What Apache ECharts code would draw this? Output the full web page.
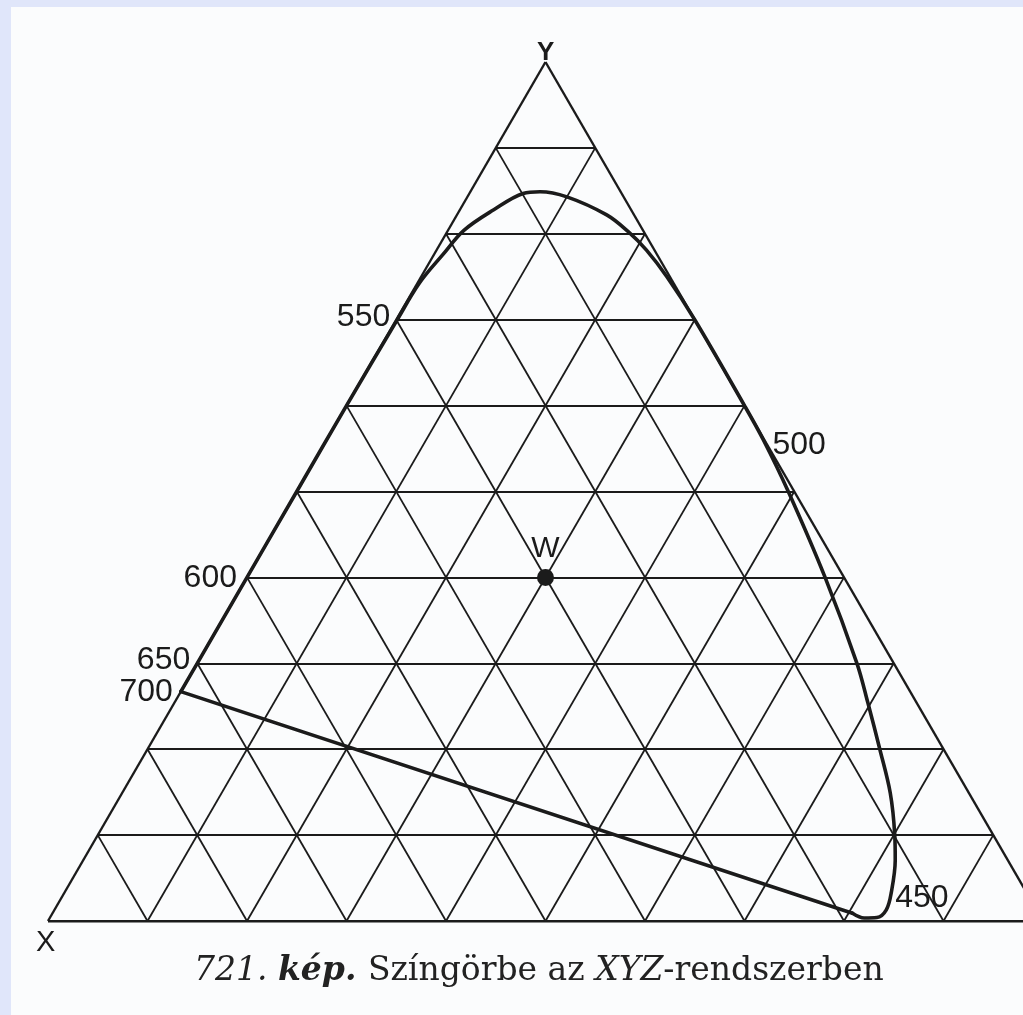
<!DOCTYPE html>
<html>
<head>
<meta charset="utf-8">
<script src="https://cdn.jsdelivr.net/npm/echarts@6/dist/echarts.min.js"></script>
<style>
  html, body { margin: 0; padding: 0; background: #e0e6fa; }
  #chart { width: 1023px; height: 1015px; }
</style>
</head>
<body>
<div id="chart"></div>
<script>
// Chromaticity coordinates [x, y] (z = 1 - x - y) along the spectral locus, red end first
const locusXY = [
  [0.733, 0.267], [0.700, 0.300], [0.600, 0.400], [0.500, 0.500], [0.400, 0.600],
  [0.300, 0.699], [0.255, 0.743], [0.215, 0.776], [0.180, 0.804], [0.138, 0.828],
  [0.099, 0.847], [0.081, 0.849], [0.057, 0.843], [0.0275, 0.822], [0.0156, 0.8025],
  [0.008, 0.781], [0.003, 0.750], [0.000, 0.700], [0.000, 0.600], [0.001, 0.560],
  [0.006, 0.500], [0.019, 0.400], [0.037, 0.300], [0.049, 0.254], [0.064, 0.200],
  [0.079, 0.149], [0.099, 0.100], [0.113, 0.071], [0.136, 0.033], [0.151, 0.013],
  [0.165, 0.004], [0.178, 0.0035], [0.187, 0.009]
];

// Line of purples: from the red end to the violet end of the locus
const purpleLineXY = [[0.733, 0.267], [0.187, 0.009]];

// Wavelength marks (nm) and where they sit on the locus
const wavelengthNames = ['700', '650', '600', '550', '500', '450'];
const wavelengthXY = [[0.733, 0.267], [0.700, 0.300], [0.600, 0.400], [0.300, 0.700], [0.000, 0.554], [0.136, 0.033]];

// White point W
const whitePointXY = [0.30, 0.40];

// Ternary grid divisions
const gridSteps = [0.1, 0.2, 0.3, 0.4, 0.5, 0.6, 0.7, 0.8, 0.9];

// Caption pieces: figure number, "kép.", text, axis letters, rest
const captionParts = ['721. ', 'kép. ', 'Színgörbe az ', 'XYZ', '-rendszerben'];
const captionStyles = ['num', 'tag', 'txt', 'ital', 'txt'];

// Triangle corners as chromaticity: X, Y, Z
const cornerX = [1, 0], cornerY = [0, 1], cornerZ = [0, 0];

// Ternary (x, y) -> plane: X bottom-left, Z bottom-right, Y on top
function toPlane(p) {
  return [1 - p[0] - p[1] / 2, p[1]];
}

const gridSegments = [];
gridSteps.forEach(function (t) {
  gridSegments.push({ coords: [toPlane([1 - t, t]), toPlane([0, t])] });       // constant y
  gridSegments.push({ coords: [toPlane([t, 1 - t]), toPlane([t, 0])] });       // constant x
  gridSegments.push({ coords: [toPlane([1 - t, 0]), toPlane([0, 1 - t])] });   // constant z
});

const edgeSegments = [
  { coords: [toPlane(cornerX), toPlane(cornerY)] },
  { coords: [toPlane(cornerY), toPlane(cornerZ)] }
];
const baseSegment = [{ coords: [toPlane(cornerX), toPlane(cornerZ)] }];

const labelPlacement = {
  '700': { position: 'left', distance: 8, offset: [0, 1] },
  '650': { position: 'left', distance: 7, offset: [0, -3] },
  '600': { position: 'left', distance: 10, offset: [0, 1] },
  '550': { position: 'left', distance: 6, offset: [0, -3] },
  '500': { position: 'right', distance: 5, offset: [0, 0] },
  '450': { position: 'right', distance: 4, offset: [0, 6] }
};

// The triangle's base is 995 px wide, but the page cuts it at its right edge
const plotLeft = 48, baseWidth = 995, pageWidth = 1023;
const visibleSpan = (pageWidth - plotLeft) / baseWidth;

const ink = '#1b1b1b';
const sansFont = '"Liberation Sans", Arial, sans-serif';
const serifFont = '"DejaVu Serif", "Liberation Serif", serif';

const chart = echarts.init(document.getElementById('chart'), null, { renderer: 'canvas' });

chart.setOption({
  animation: false,
  backgroundColor: '#e0e6fa',
  grid: { left: plotLeft, right: 0, top: 62, height: 859 },
  xAxis: { type: 'value', min: 0, max: visibleSpan, show: false },
  yAxis: { type: 'value', min: 0, max: 1, show: false },
  graphic: [
    {
      type: 'rect', z: -10, left: 11, top: 7, silent: true,
      shape: { width: 1012, height: 1008 },
      style: { fill: '#fbfcfd' }
    },
    {
      type: 'text', left: 537, top: 40, silent: true,
      style: { text: 'Y', font: 'bold 26px ' + sansFont, fill: ink }
    },
    {
      type: 'text', left: 36, top: 928, silent: true,
      style: { text: 'X', font: 'normal 29px ' + sansFont, fill: ink }
    },
    {
      type: 'text', left: 194, top: 955, silent: true,
      style: {
        text: captionParts.map(function (p, i) { return '{' + captionStyles[i] + '|' + p + '}'; }).join(''),
        fill: '#222',
        rich: {
          num: { font: 'italic 33px ' + serifFont, fill: '#222' },
          tag: { font: 'italic bold 33px ' + serifFont, fill: '#222' },
          txt: { font: 'normal 33px ' + serifFont, fill: '#222' },
          ital: { font: 'italic 33px ' + serifFont, fill: '#222' }
        }
      }
    }
  ],
  series: [
    {
      name: 'grid',
      type: 'lines',
      coordinateSystem: 'cartesian2d',
      silent: true,
      z: 2,
      lineStyle: { color: ink, width: 1.8, opacity: 1 },
      data: gridSegments
    },
    {
      name: 'edges',
      type: 'lines',
      coordinateSystem: 'cartesian2d',
      silent: true,
      z: 3,
      lineStyle: { color: ink, width: 2.4, opacity: 1 },
      data: edgeSegments
    },
    {
      name: 'base',
      type: 'lines',
      coordinateSystem: 'cartesian2d',
      silent: true,
      z: 3,
      lineStyle: { color: ink, width: 3, opacity: 1 },
      data: baseSegment
    },
    {
      name: 'locus',
      type: 'line',
      silent: true,
      z: 4,
      smooth: 0.35,
      symbol: 'none',
      lineStyle: { color: ink, width: 3.6, cap: 'round', join: 'round' },
      data: locusXY.map(toPlane)
    },
    {
      name: 'purple line',
      type: 'line',
      silent: true,
      z: 4,
      symbol: 'none',
      lineStyle: { color: ink, width: 3.6, cap: 'round' },
      data: purpleLineXY.map(toPlane)
    },
    {
      name: 'wavelengths',
      type: 'scatter',
      silent: true,
      z: 5,
      symbolSize: 0,
      itemStyle: { opacity: 1 },
      data: wavelengthNames.map(function (nm, i) {
        const pl = labelPlacement[nm];
        return {
          name: nm,
          value: toPlane(wavelengthXY[i]),
          label: {
            show: true,
            formatter: nm,
            position: pl.position,
            distance: pl.distance,
            offset: pl.offset,
            color: ink,
            opacity: 1,
            fontFamily: sansFont,
            fontSize: 32
          }
        };
      })
    },
    {
      name: 'W',
      type: 'scatter',
      silent: true,
      z: 6,
      symbol: 'circle',
      symbolSize: 17,
      itemStyle: { color: ink, opacity: 1 },
      label: {
        show: true,
        formatter: 'W',
        position: 'top',
        distance: 5,
        color: ink,
        opacity: 1,
        fontFamily: sansFont,
        fontSize: 30
      },
      data: [toPlane(whitePointXY)]
    }
  ]
});
</script>
</body>
</html>
